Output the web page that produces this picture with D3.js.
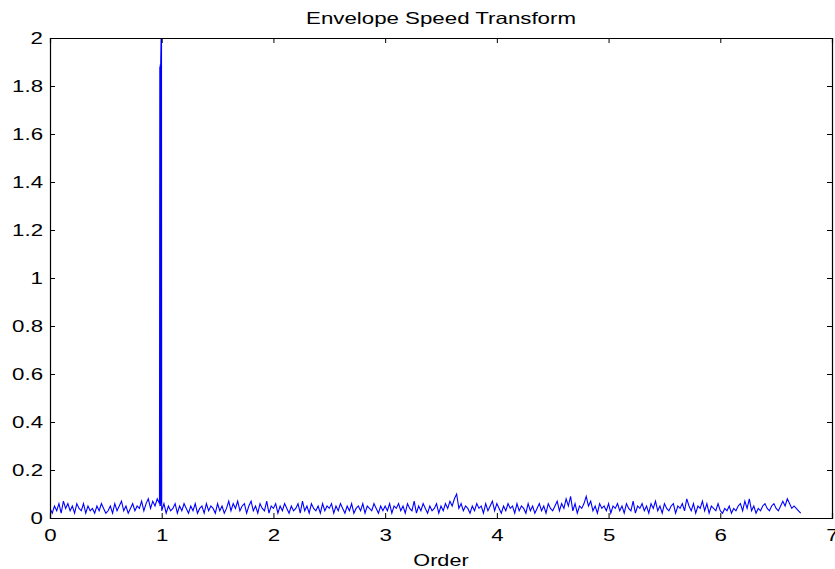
<!DOCTYPE html>
<html>
<head>
<meta charset="utf-8">
<script src="https://cdn.jsdelivr.net/npm/d3@7"></script>
<style>
  html, body { margin: 0; padding: 0; background: #fff; }
  svg { display: block; font-family: "Liberation Sans", Arial, Helvetica, sans-serif; }
</style>
</head>
<body>
<svg id="chart" width="835" height="569"></svg>
<script>
// ---- data ----
const title = "Envelope Speed Transform";
const xLabel = "Order";
const xTicks = [0, 1, 2, 3, 4, 5, 6, 7];
const yTicks = [0, 0.2, 0.4, 0.6, 0.8, 1, 1.2, 1.4, 1.6, 1.8, 2];
const orderStep = 0.02;   // spacing of spectrum samples in order
const noiseValues = [
  0.04,0.02,0.05,0.03,0.06,0.02,0.07,0.04,0.06,0.03,
  0.05,0.02,0.06,0.04,0.03,0.06,0.02,0.05,0.03,0.04,
  0.02,0.05,0.03,0.06,0.04,0.02,0.03,0.05,0.02,0.06,
  0.03,0.05,0.07,0.03,0.05,0.02,0.04,0.06,0.03,0.05,
  0.04,0.07,0.03,0.06,0.08,0.04,0.07,0.05,0.08,0.06,
  0.03,0.06,0.02,0.05,0.03,0.04,0.06,0.02,0.05,0.03,
  0.06,0.04,0.02,0.05,0.03,0.06,0.02,0.04,0.05,0.02,
  0.06,0.03,0.05,0.04,0.02,0.06,0.03,0.05,0.02,0.04,
  0.07,0.03,0.06,0.04,0.07,0.03,0.05,0.06,0.02,0.05,
  0.07,0.03,0.05,0.02,0.06,0.04,0.03,0.07,0.02,0.05,
  0.04,0.06,0.02,0.05,0.03,0.06,0.04,0.02,0.05,0.03,
  0.04,0.06,0.02,0.07,0.03,0.05,0.02,0.06,0.04,0.03,
  0.05,0.02,0.06,0.03,0.05,0.04,0.06,0.02,0.05,0.03,
  0.06,0.04,0.02,0.05,0.03,0.06,0.02,0.04,0.05,0.03,
  0.06,0.02,0.05,0.04,0.03,0.06,0.04,0.02,0.05,0.03,
  0.05,0.03,0.06,0.02,0.05,0.04,0.06,0.03,0.05,0.02,
  0.06,0.04,0.03,0.07,0.02,0.05,0.03,0.06,0.04,0.02,
  0.05,0.03,0.04,0.06,0.02,0.05,0.03,0.06,0.04,0.07,
  0.05,0.08,0.10,0.04,0.06,0.03,0.05,0.04,0.02,0.05,
  0.03,0.06,0.04,0.05,0.02,0.06,0.03,0.05,0.07,0.03,
  0.06,0.04,0.02,0.05,0.03,0.06,0.04,0.05,0.02,0.06,
  0.03,0.05,0.04,0.02,0.06,0.03,0.05,0.02,0.04,0.06,
  0.03,0.05,0.02,0.06,0.04,0.03,0.05,0.07,0.03,0.06,
  0.04,0.08,0.05,0.09,0.03,0.06,0.02,0.05,0.04,0.06,
  0.09,0.05,0.07,0.03,0.05,0.02,0.06,0.04,0.05,0.03,
  0.06,0.02,0.05,0.04,0.06,0.03,0.05,0.02,0.06,0.04,
  0.03,0.07,0.02,0.05,0.04,0.06,0.03,0.05,0.02,0.06,
  0.04,0.07,0.03,0.05,0.02,0.06,0.04,0.03,0.05,0.06,
  0.02,0.05,0.04,0.06,0.03,0.08,0.05,0.03,0.06,0.02,
  0.05,0.04,0.07,0.03,0.06,0.02,0.05,0.04,0.03,0.06,
  0.03,0.02,0.04,0.03,0.05,0.02,0.04,0.03,0.05,0.06,
  0.03,0.07,0.04,0.08,0.03,0.05,0.02,0.04,0.03,0.05,
  0.06,0.04,0.03,0.05,0.06,0.04,0.03,0.05,0.07,0.05,
  0.08,0.06,0.04,0.05,0.04,0.03,0.02
];
// the 1x running-speed peak (clipped above 2)
const peakOrders = [0.983, 0.984, 0.985, 0.986, 0.987, 0.988, 0.989, 0.990, 0.991, 0.998];
const peakValues = [1.88, 0.05, 1.88, 0.06, 1.89, 0.05, 1.89, 0.06, 1.90, 2.10];

// ---- layout ----
const svg = d3.select("#chart");
const m = { left: 50, right: 832, top: 38, bottom: 518 };
const x = d3.scaleLinear().domain([0, 7]).range([m.left, m.right]);
const y = d3.scaleLinear().domain([0, 2]).range([m.bottom, m.top]);
const stretch = 1.35;   // glyphs in the reference are horizontally widened

function widen(sel) {
  sel.each(function () {
    const len = this.getComputedTextLength();
    if (len > 0) {
      d3.select(this).attr("textLength", len * stretch).attr("lengthAdjust", "spacingAndGlyphs");
    }
  });
}

let pts = noiseValues.map((v, i) => ({ o: i * orderStep, v }));
peakOrders.forEach((o, i) => pts.push({ o, v: peakValues[i] }));
pts.sort((a, b) => a.o - b.o);

svg.append("defs").append("clipPath").attr("id", "clip")
  .append("rect").attr("x", m.left).attr("y", m.top)
  .attr("width", m.right - m.left).attr("height", m.bottom - m.top);

svg.append("path")
  .datum(pts)
  .attr("clip-path", "url(#clip)")
  .attr("fill", "none")
  .attr("stroke", "#0000ff")
  .attr("stroke-width", 1.1)
  .attr("d", d3.line().x(d => x(d.o)).y(d => y(d.v)));

// axes
const tickLen = 5;
const fmtY = d => d3.format("~g")(d);
const gBottom = svg.append("g").attr("transform", `translate(0,${m.bottom})`)
  .call(d3.axisBottom(x).tickValues(xTicks).tickSize(-tickLen).tickPadding(11).tickFormat(d3.format("d")));
const gTop = svg.append("g").attr("transform", `translate(0,${m.top})`)
  .call(d3.axisTop(x).tickValues(xTicks).tickSize(-tickLen).tickFormat(""));
const gLeft = svg.append("g").attr("transform", `translate(${m.left},0)`)
  .call(d3.axisLeft(y).tickValues(yTicks).tickSize(-tickLen).tickPadding(7).tickFormat(fmtY));
const gRight = svg.append("g").attr("transform", `translate(${m.right},0)`)
  .call(d3.axisRight(y).tickValues(yTicks).tickSize(-tickLen).tickFormat(""));

[gBottom, gTop, gLeft, gRight].forEach(g => {
  g.select(".domain").attr("stroke", "#000").attr("stroke-width", 1.2);
  g.selectAll(".tick line").attr("stroke", "#000");
  g.selectAll("text").attr("fill", "#000").style("font-size", "16.5px")
    .style("font-family", "'Liberation Sans', Arial, sans-serif");
});
widen(gBottom.selectAll("text"));
widen(gLeft.selectAll("text"));

svg.append("text")
  .attr("x", (m.left + m.right) / 2).attr("y", 24)
  .attr("text-anchor", "middle")
  .style("font-size", "16.5px")
  .text(title)
  .call(widen);

svg.append("text")
  .attr("x", (m.left + m.right) / 2).attr("y", 566)
  .attr("text-anchor", "middle")
  .style("font-size", "16px")
  .text(xLabel)
  .call(widen);
</script>
</body>
</html>
